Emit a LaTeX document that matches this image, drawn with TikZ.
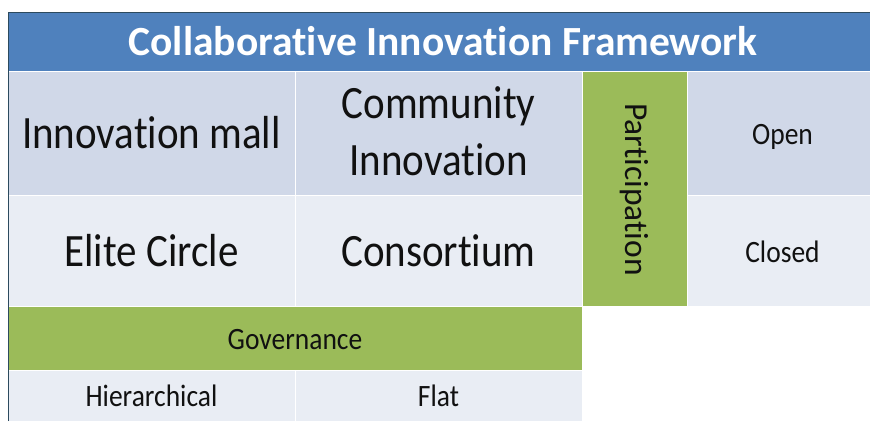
\documentclass[tikz,border=0pt]{standalone}
\usepackage{graphicx}
\usepackage{fontspec}
\setmainfont{Carlito}[Ligatures=NoCommon]
\definecolor{hdrblue}{HTML}{4F81BD}
\definecolor{rowdark}{HTML}{D0D8E8}
\definecolor{rowlight}{HTML}{E9EDF4}
\definecolor{axisgreen}{HTML}{9BBB59}
\definecolor{inktext}{HTML}{111111}
\definecolor{edgeline}{HTML}{2C4A5E}
% slightly taller lettering for the cell labels
\newcommand{\tallbox}[1]{\scalebox{1}[1.13]{#1}}
% lower a label without changing the size the node sees
\newcommand{\lowerby}[2]{\raisebox{-#1}[\height][\depth]{#2}}
\begin{document}
\begin{tikzpicture}[x=1pt,y=-1pt,
  cell/.style={draw=white,line width=0.8pt,inner sep=0pt,outer sep=0pt,
    anchor=north west,text=inktext,align=center},
  bigtext/.style={font=\fontsize{41}{49}\selectfont},
  smalltext/.style={font=\fontsize{27.5}{33}\selectfont}]
\useasboundingbox (0,0) rectangle (870,421);
\fill[white] (0,0) rectangle (870,421);
\begin{scope}
\clip (0,0) rectangle (870,421);
% title bar
\node[cell,fill=hdrblue,minimum width=870pt,minimum height=59pt,text=white,
  font=\bfseries\fontsize{41.5}{48}\selectfont] (title) at (8,12) {Collaborative Innovation Framework};
% upper row
\node[cell,fill=rowdark,bigtext,minimum width=287pt,minimum height=124pt] (mall) at (8,71) {\tallbox{Innovation mall}};
\node[cell,fill=rowdark,bigtext,minimum width=287pt,minimum height=124pt] (community) at (295,71)
  {\lowerby{3pt}{\tallbox{\begin{tabular}{@{}c@{}}Community\\[1pt]Innovation\end{tabular}}}};
\node[cell,fill=rowdark,smalltext,minimum width=191pt,minimum height=124pt] (open) at (687,71) {\lowerby{4pt}{\tallbox{Open}}};
% lower row
\node[cell,fill=rowlight,bigtext,minimum width=287pt,minimum height=111pt] (elite) at (8,195) {\tallbox{Elite Circle}};
\node[cell,fill=rowlight,bigtext,minimum width=287pt,minimum height=111pt] (consortium) at (295,195) {\tallbox{Consortium}};
\node[cell,fill=rowlight,smalltext,minimum width=191pt,minimum height=111pt] (closed) at (687,195) {\lowerby{1pt}{\tallbox{Closed}}};
% participation axis
\node[cell,fill=axisgreen,minimum width=105pt,minimum height=235pt] (partbox) at (582,71) {};
\node[rotate=-90,text=inktext,font=\fontsize{33.5}{40}\selectfont] (participation) at ([yshift=-1pt]partbox.center) {Participation};
% governance axis
\node[cell,fill=axisgreen,smalltext,minimum width=574pt,minimum height=64pt] (governance) at (8,306) {\lowerby{2pt}{\tallbox{Governance}}};
\node[cell,fill=rowlight,smalltext,minimum width=287pt,minimum height=51pt] (hier) at (8,370) {\tallbox{Hierarchical}};
\node[cell,fill=rowlight,smalltext,minimum width=287pt,minimum height=51pt] (flat) at (295,370) {\tallbox{Flat}};
% outer frame edge
\draw[edgeline,line width=1pt] (8,421) -- (8,12) -- (870,12);
\end{scope}
\end{tikzpicture}
\end{document}
